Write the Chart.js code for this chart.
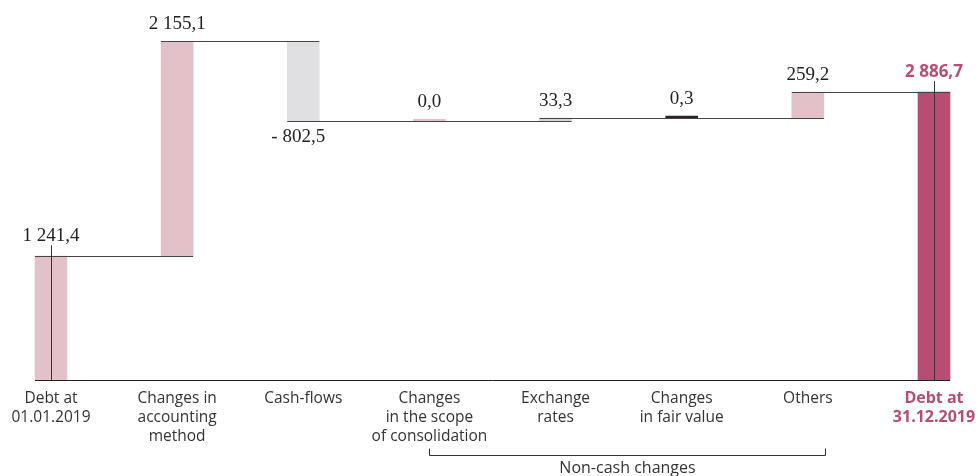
<!DOCTYPE html>
<html lang="en">

<head>
    <meta charset="UTF-8">
    <title>Debt bridge 2019</title>
    <script src="https://cdn.jsdelivr.net/npm/chart.js"></script>
    <style>
        body { margin: 0; background: #fff; }
        .wrap { width: 980px; height: 476px; position: relative; }
    </style>
</head>

<body>
    <div class="wrap">
        <canvas id="debtChart"></canvas>
    </div>

    <script>
        // Categories (tick labels), one array per line
        const categories = [
            ['Debt at', '01.01.2019'],
            ['Changes in', 'accounting', 'method'],
            ['Cash-flows'],
            ['Changes', 'in the scope', 'of consolidation'],
            ['Exchange', 'rates'],
            ['Changes', 'in fair value'],
            ['Others'],
            ['Debt at', '31.12.2019']
        ];

        // Values (EUR m)
        const openingDebt = 1241.4;
        const movements = [2155.1, -802.5, 0.0, 33.3, 0.3, 259.2];
        const closingDebt = 2886.7;

        // Bar colours
        const barColors = ['#e2c2c8', '#e2c2c8', '#e0e0e2', '#e2c2c8', '#d6d6d8', '#2e2226', '#e2c2c8', '#b84d74'];
        const accent = '#b84d74';

        // Running totals after each bar (used for the connectors)
        const runningTotals = [openingDebt];
        movements.forEach(m => {
            const prev = runningTotals[runningTotals.length - 1];
            runningTotals.push(Math.round((prev + m) * 10) / 10);
        });

        // Floating bars [start, end]
        const barData = [[0, openingDebt]];
        movements.forEach((m, i) => barData.push([runningTotals[i], runningTotals[i + 1]]));
        barData.push([0, closingDebt]);

        const values = [openingDebt, ...movements, closingDebt];

        function formatValue(v) {
            const parts = Math.abs(v).toFixed(1).split('.');
            const intPart = parts[0].replace(/\B(?=(\d{3})+(?!\d))/g, ' ');
            return (v < 0 ? '- ' : '') + intPart + ',' + parts[1];
        }

        // Connectors, value labels, baseline and the "Non-cash changes" bracket
        const waterfallDecor = {
            id: 'waterfallDecor',
            afterDatasetsDraw(chart) {
                const { ctx, scales: { x, y } } = chart;
                const bars = chart.getDatasetMeta(0).data;
                const half = bars[0].width / 2;
                const last = bars.length - 1;
                const base = Math.round(y.getPixelForValue(0)) + 0.5;
                ctx.save();

                // connectors between consecutive bars
                ctx.strokeStyle = '#444';
                ctx.lineWidth = 1;
                for (let i = 0; i < last; i++) {
                    const ly = Math.round(y.getPixelForValue(runningTotals[i])) + 0.5;
                    ctx.beginPath();
                    ctx.moveTo(bars[i].x - half, ly);
                    ctx.lineTo(bars[i + 1].x + half, ly);
                    ctx.stroke();
                }

                // baseline
                ctx.strokeStyle = '#222';
                ctx.beginPath();
                ctx.moveTo(bars[0].x - half, base);
                ctx.lineTo(bars[last].x + half, base);
                ctx.stroke();

                // vertical markers in the opening and closing bars
                ctx.strokeStyle = '#333';
                [0, last].forEach(i => {
                    const cx = Math.round(bars[i].x) + 0.5;
                    ctx.beginPath();
                    ctx.moveTo(cx, base);
                    ctx.lineTo(cx, bars[i].y - 11);
                    ctx.stroke();
                });

                // value labels
                ctx.textAlign = 'center';
                bars.forEach((bar, i) => {
                    const v = values[i];
                    const top = Math.min(bar.y, bar.base);
                    const bottom = Math.max(bar.y, bar.base);
                    if (i === last) {
                        ctx.font = 'bold 17px "Open Sans", sans-serif';
                        ctx.fillStyle = accent;
                    } else {
                        ctx.font = '19px "Liberation Serif", serif';
                        ctx.fillStyle = '#222';
                    }
                    if (v < 0) {
                        ctx.textBaseline = 'top';
                        ctx.fillText(formatValue(v), bar.x - 5, bottom + 6);
                    } else {
                        ctx.textBaseline = 'alphabetic';
                        const off = (i === 0 || i === last) ? 15 : 12;
                        ctx.fillText(formatValue(v), bar.x, top - off);
                    }
                });

                // bracket under the non-cash items
                const bx1 = Math.round(bars[3].x) + 0.5;
                const bx2 = Math.round(bars[6].x + half) + 1.5;
                const by = 455.5;
                ctx.strokeStyle = '#333';
                ctx.beginPath();
                ctx.moveTo(bx1, by - 7);
                ctx.lineTo(bx1, by);
                ctx.lineTo(bx2, by);
                ctx.lineTo(bx2, by - 7);
                ctx.stroke();
                ctx.fillStyle = '#333';
                ctx.font = '16px "Open Sans", sans-serif';
                ctx.textBaseline = 'top';
                ctx.fillText('Non-cash changes', (bx1 + bx2) / 2, by + 5);

                ctx.restore();
            }
        };

        new Chart(document.getElementById('debtChart'), {
            type: 'bar',
            data: {
                labels: categories,
                datasets: [{
                    data: barData,
                    backgroundColor: barColors,
                    barThickness: 32,
                    minBarLength: 2,
                    borderWidth: 0,
                    clip: false
                }]
            },
            options: {
                responsive: true,
                maintainAspectRatio: false,
                animation: false,
                layout: { padding: { left: 51, right: 46, top: 0, bottom: 0 } },
                plugins: {
                    legend: { display: false },
                    tooltip: { enabled: false }
                },
                scales: {
                    x: {
                        offset: false,
                        grid: { display: false },
                        border: { display: false },
                        afterFit(scale) { scale.height = 96; },
                        ticks: {
                            padding: 1,
                            maxRotation: 0,
                            autoSkip: false,
                            color: ctx => ctx.index === categories.length - 1 ? accent : '#333',
                            font: ctx => ctx.index === categories.length - 1
                                ? { family: '"Open Sans", sans-serif', size: 16, weight: 'bold', lineHeight: 1.2 }
                                : { family: '"Open Sans", sans-serif', size: 15.5, lineHeight: 1.23 }
                        }
                    },
                    y: {
                        display: false,
                        min: 0,
                        max: 3810
                    }
                }
            },
            plugins: [waterfallDecor]
        });
    </script>
</body>

</html>
